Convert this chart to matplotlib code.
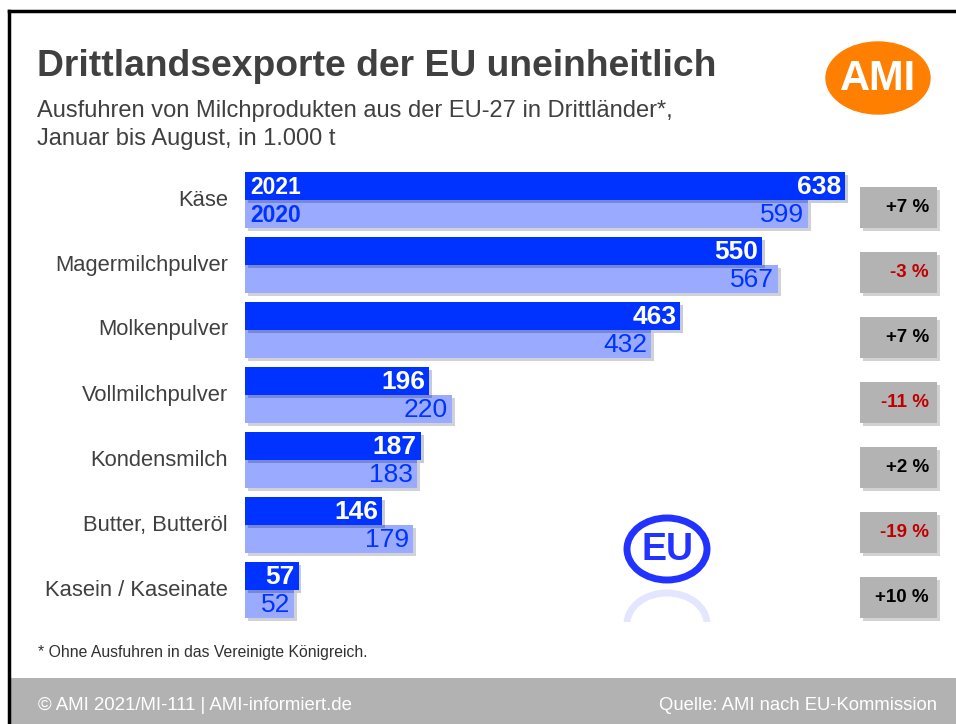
import matplotlib.pyplot as plt
import matplotlib.patheffects as pe
from matplotlib.patches import Rectangle, Ellipse
from matplotlib.lines import Line2D

# data
categories = ['Käse', 'Magermilchpulver', 'Molkenpulver', 'Vollmilchpulver',
              'Kondensmilch', 'Butter, Butteröl', 'Kasein / Kaseinate']
val_2021 = [638, 550, 463, 196, 187, 146, 57]
val_2020 = [599, 567, 432, 220, 183, 179, 52]
changes = ['+7 %', '-3 %', '+7 %', '-11 %', '+2 %', '-19 %', '+10 %']

BLUE = '#0033ff'
LIGHT = '#99aaff'
GREY = '#404040'
FONT = ['Liberation Sans', 'DejaVu Sans']

W, H = 956, 724
fig = plt.figure(figsize=(W / 100, H / 100), dpi=100)

# frame + footer
fig.add_artist(Rectangle((9 / W, 0), 1, 46 / H, transform=fig.transFigure,
                         facecolor='#b2b2b2', edgecolor='none'))
fig.add_artist(Line2D([9 / W, 1], [1 - 11 / H] * 2, color='black', lw=2.5,
                      transform=fig.transFigure))
fig.add_artist(Line2D([9 / W] * 2, [0, 1 - 11 / H], color='black', lw=2.5,
                      transform=fig.transFigure))

# titles
fig.text(37 / W, 1 - 66 / H, 'Drittlandsexporte der EU uneinheitlich',
         fontsize=26.8, fontweight='bold', color=GREY, family=FONT, va='center')
fig.text(37 / W, 1 - 111 / H, 'Ausfuhren von Milchprodukten aus der EU-27 in Drittländer*,',
         fontsize=17, color=GREY, family=FONT, va='center')
fig.text(37 / W, 1 - 139 / H, 'Januar bis August, in 1.000 t',
         fontsize=17, color=GREY, family=FONT, va='center')
fig.text(38 / W, 1 - 652 / H, '* Ohne Ausfuhren in das Vereinigte Königreich.',
         fontsize=11.3, color='#303030', family=FONT, va='center')
fig.text(38 / W, 1 - 706 / H, '© AMI 2021/MI-111 | AMI-informiert.de',
         fontsize=13.4, color='white', family=FONT, va='center')
fig.text(937 / W, 1 - 706 / H, 'Quelle: AMI nach EU-Kommission',
         fontsize=13.3, color='white', family=FONT, va='center', ha='right')

# AMI logo
fig.add_artist(Ellipse((878 / W, 1 - 78 / H), 104 / W, 72 / H,
                       transform=fig.transFigure, color='#ff7f00'))
fig.text(878 / W, 1 - 79 / H, 'AMI', fontsize=30, fontweight='bold',
         color='white', family=FONT, ha='center', va='center')

# EU logo with faded reflection
EUB = '#2233ff'
fig.add_artist(Ellipse((667 / W, 1 - 549 / H), 80 / W, 62 / H, fill=False,
                       transform=fig.transFigure, edgecolor=EUB, lw=5))
fig.text(667 / W, 1 - 550 / H, 'EU', fontsize=27, fontweight='bold',
         color=EUB, family=FONT, ha='center', va='center')
clip = Rectangle((600 / W, 1 - 622 / H), 140 / W, 36 / H,
                 transform=fig.transFigure, visible=False)
fig.add_artist(clip)
refl = Ellipse((667 / W, 1 - 624 / H), 80 / W, 62 / H, fill=False,
               transform=fig.transFigure, edgecolor=EUB, lw=5, alpha=0.12)
fig.add_artist(refl)
refl.set_clip_path(clip)

# main axes: x scale ~0.94 px per unit, rows 65 px apart
x0, x1 = 245, 940
y_top, y_bot = 160, 640
scale = (845 - 245) / 638
ax = fig.add_axes([x0 / W, 1 - y_bot / H, (x1 - x0) / W, (y_bot - y_top) / H])
ax.set_xlim(0, (x1 - x0) / scale)
ax.set_ylim((y_bot - 200) / 65, (y_top - 200) / 65)
ax.axis('off')

h = 28 / 65
shadow = [pe.SimplePatchShadow(offset=(2, -2), alpha=0.22), pe.Normal()]
rows = range(len(categories))
b20 = ax.barh([r + h / 2 for r in rows], val_2020, height=h, color=LIGHT)
b21 = ax.barh([r - h / 2 for r in rows], val_2021, height=h, color=BLUE)
for b in list(b20) + list(b21):
    b.set_path_effects(shadow)

pad = 4 / scale
bx0 = (860 - 245) / scale
bw = 77 / scale
for r, cat in enumerate(categories):
    ax.text(-17 / scale, r, cat, ha='right', va='center', fontsize=15.8,
            color=GREY, family=FONT)
    ax.text(val_2021[r] - pad, r - h / 2 + 0.02, str(val_2021[r]), ha='right',
            va='center', fontsize=19, fontweight='bold', color='white',
            family=FONT)
    ax.text(val_2020[r] - pad, r + h / 2 + 0.02, str(val_2020[r]), ha='right',
            va='center', fontsize=19, color=BLUE, family=FONT)
    box = Rectangle((bx0, r - 0.2), bw, 0.63, facecolor='#b3b3b3',
                    edgecolor='none')
    box.set_path_effects(shadow)
    ax.add_patch(box)
    col = '#c00000' if changes[r].startswith('-') else 'black'
    ax.text(bx0 + bw - 8 / scale, r + 0.115, changes[r], ha='right', va='center',
            fontsize=13.5, fontweight='bold', color=col, family=FONT)

ax.text(5 / scale, -h / 2 + 0.02, '2021', ha='left', va='center', fontsize=16.5,
        fontweight='bold', color='white', family=FONT)
ax.text(5 / scale, h / 2 + 0.02, '2020', ha='left', va='center', fontsize=16.5,
        fontweight='bold', color=BLUE, family=FONT)

fig.savefig('out.png', dpi=100)
